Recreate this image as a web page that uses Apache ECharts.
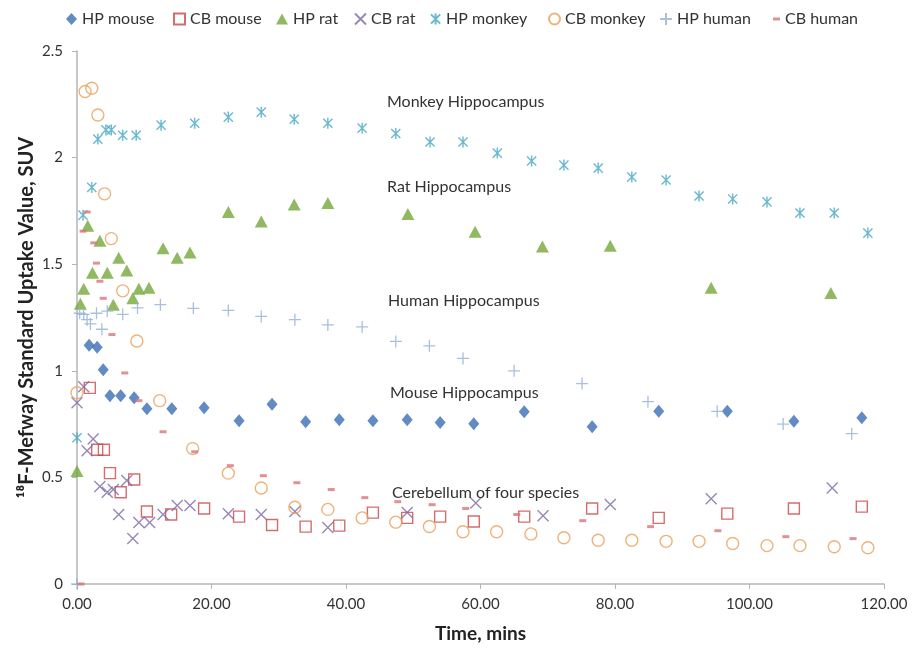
<!DOCTYPE html>
<html>
<head>
<meta charset="utf-8">
<script src="https://cdn.jsdelivr.net/npm/echarts@6/dist/echarts.min.js"></script>
<style>
  html, body { margin: 0; padding: 0; background: #fff; }
  #chart { width: 913px; height: 648px; }
</style>
</head>
<body>
<div id="chart"></div>
<script>
// ---------- data (time in minutes, SUV) ----------
const hpMouseT = [1.8, 3.0, 3.9, 4.9, 6.5, 8.5, 10.4, 14.1, 18.9, 24.1, 29.0, 34.0, 39.0, 44.0, 49.1, 54.0, 59.0, 66.5, 76.6, 86.5, 96.7, 106.6, 116.7];
const hpMouseV = [1.12, 1.11, 1.005, 0.883, 0.883, 0.874, 0.822, 0.822, 0.827, 0.766, 0.843, 0.761, 0.77, 0.766, 0.77, 0.757, 0.752, 0.808, 0.738, 0.81, 0.81, 0.763, 0.78];

const cbMouseT = [1.9, 3.0, 4.0, 4.9, 6.5, 8.5, 10.4, 14.0, 18.9, 24.1, 29.0, 34.0, 39.0, 44.0, 49.1, 54.0, 59.0, 66.5, 76.6, 86.5, 96.7, 106.6, 116.7];
const cbMouseV = [0.92, 0.63, 0.63, 0.52, 0.43, 0.49, 0.34, 0.326, 0.354, 0.316, 0.277, 0.269, 0.274, 0.335, 0.31, 0.316, 0.293, 0.316, 0.354, 0.31, 0.33, 0.354, 0.363];

const hpRatT = [0, 0.5, 1.0, 1.6, 2.3, 3.4, 4.5, 5.4, 6.2, 7.4, 8.3, 9.2, 10.7, 12.8, 14.9, 16.8, 22.5, 27.4, 32.3, 37.3, 49.2, 59.2, 69.2, 79.3, 94.3, 112.1];
const hpRatV = [0.53, 1.315, 1.385, 1.68, 1.46, 1.61, 1.46, 1.31, 1.53, 1.47, 1.34, 1.385, 1.39, 1.575, 1.53, 1.555, 1.745, 1.70, 1.78, 1.787, 1.735, 1.652, 1.583, 1.587, 1.39, 1.365];

const cbRatT = [0, 1.0, 1.5, 2.4, 3.4, 4.5, 5.4, 6.2, 7.4, 8.3, 9.2, 10.8, 12.8, 14.9, 16.8, 22.5, 27.4, 32.4, 37.3, 49.1, 59.3, 69.3, 79.3, 94.3, 112.3];
const cbRatV = [0.85, 0.925, 0.625, 0.68, 0.457, 0.43, 0.443, 0.326, 0.485, 0.213, 0.288, 0.288, 0.326, 0.368, 0.368, 0.33, 0.326, 0.34, 0.265, 0.335, 0.38, 0.32, 0.373, 0.40, 0.45];

const hpMonkeyT = [0, 0.9, 2.2, 3.1, 4.3, 5.1, 6.8, 8.8, 12.5, 17.5, 22.5, 27.4, 32.3, 37.3, 42.4, 47.4, 52.5, 57.4, 62.5, 67.6, 72.4, 77.5, 82.5, 87.6, 92.5, 97.5, 102.6, 107.5, 112.6, 117.6];
const hpMonkeyV = [0.686, 1.73, 1.86, 2.087, 2.13, 2.13, 2.105, 2.105, 2.152, 2.161, 2.19, 2.213, 2.18, 2.161, 2.138, 2.113, 2.073, 2.073, 2.021, 1.984, 1.965, 1.951, 1.909, 1.895, 1.82, 1.806, 1.792, 1.74, 1.74, 1.646];

const cbMonkeyT = [0, 1.2, 2.2, 3.1, 4.1, 5.1, 6.8, 8.9, 12.3, 17.2, 22.5, 27.4, 32.4, 37.3, 42.4, 47.4, 52.4, 57.4, 62.4, 67.5, 72.4, 77.5, 82.5, 87.6, 92.5, 97.5, 102.6, 107.5, 112.6, 117.6];
const cbMonkeyV = [0.897, 2.31, 2.325, 2.20, 1.83, 1.62, 1.375, 1.14, 0.86, 0.635, 0.52, 0.45, 0.36, 0.35, 0.31, 0.29, 0.27, 0.245, 0.245, 0.235, 0.217, 0.205, 0.205, 0.2, 0.2, 0.19, 0.18, 0.18, 0.175, 0.17];

const hpHumanT = [0, 0.4, 1.0, 1.5, 2.0, 2.9, 3.7, 4.5, 6.8, 9.0, 12.4, 17.3, 22.5, 27.4, 32.4, 37.3, 42.4, 47.4, 52.4, 57.4, 65.0, 75.1, 84.9, 95.2, 105.0, 115.2];
const hpHumanV = [0, 1.27, 1.265, 1.24, 1.22, 1.27, 1.195, 1.28, 1.265, 1.295, 1.31, 1.293, 1.283, 1.255, 1.24, 1.215, 1.206, 1.138, 1.117, 1.058, 1.0, 0.94, 0.855, 0.81, 0.75, 0.705];

const cbHumanT = [0.6, 0.9, 1.5, 2.5, 2.9, 3.4, 3.9, 5.2, 7.1, 9.2, 12.8, 17.5, 22.8, 27.7, 32.7, 37.8, 42.8, 47.7, 52.8, 57.8, 65.4, 75.2, 85.3, 95.3, 105.4, 115.4];
const cbHumanV = [0, 1.655, 1.745, 1.60, 1.505, 1.42, 1.34, 1.17, 0.99, 0.86, 0.714, 0.62, 0.555, 0.508, 0.475, 0.443, 0.405, 0.386, 0.372, 0.354, 0.326, 0.297, 0.269, 0.25, 0.222, 0.213];

const seriesNames = ['HP mouse', 'CB mouse', 'HP rat', 'CB rat', 'HP monkey', 'CB monkey', 'HP human', 'CB human'];
const xTicks = [0, 20, 40, 60, 80, 100, 120];
const yTicks = [0, 0.5, 1, 1.5, 2, 2.5];

const annotations = ['Monkey Hippocampus', 'Rat Hippocampus', 'Human Hippocampus', 'Mouse Hippocampus', 'Cerebellum of four species'];

// ---------- build ----------
const zip = (t, v) => t.map((x, i) => [x, v[i]]);
const FONT = 'Lato, "Open Sans", sans-serif';

const X_PATH = 'path://M0,0L10,10M10,0L0,10';
const STAR_PATH = 'path://M0,0L10,10M10,0L0,10M5,-1L5,11';
const PLUS_PATH = 'path://M5,0L5,10M0,5L10,5';

const styles = [
  { symbol: 'diamond', size: [11, 13], itemStyle: { color: '#3b6db4' } },
  { symbol: 'rect', size: 11, itemStyle: { color: 'rgba(0,0,0,0)', borderColor: '#c9474a', borderWidth: 1.4 } },
  { symbol: 'triangle', size: [13, 12], itemStyle: { color: '#76a83a' } },
  { symbol: X_PATH, size: 11, itemStyle: { color: 'rgba(0,0,0,0)', borderColor: '#7c6aa4', borderWidth: 1.4 } },
  { symbol: STAR_PATH, size: 11, itemStyle: { color: 'rgba(0,0,0,0)', borderColor: '#43a8c4', borderWidth: 1.4 } },
  { symbol: 'circle', size: 12, itemStyle: { color: 'rgba(0,0,0,0)', borderColor: '#e8a05a', borderWidth: 1.4 } },
  { symbol: PLUS_PATH, size: 12, itemStyle: { color: 'rgba(0,0,0,0)', borderColor: '#92b0d6', borderWidth: 1.3 } },
  { symbol: 'rect', size: [7, 3], itemStyle: { color: '#d9767a' } }
];
const datasets = [
  zip(hpMouseT, hpMouseV), zip(cbMouseT, cbMouseV), zip(hpRatT, hpRatV), zip(cbRatT, cbRatV),
  zip(hpMonkeyT, hpMonkeyV), zip(cbMonkeyT, cbMonkeyV), zip(hpHumanT, hpHumanV), zip(cbHumanT, cbHumanV)
];

const series = seriesNames.map((name, i) => ({
  name: name,
  type: 'scatter',
  data: datasets[i],
  symbol: styles[i].symbol,
  symbolSize: styles[i].size,
  symbolKeepAspect: true,
  itemStyle: styles[i].itemStyle,
  emphasis: { disabled: true },
  z: 2 + i
}));

// legend placement (one small legend per item, like the reference layout)
const legendLeft = [61, 168, 271, 349, 425, 543, 654, 768];
const legendIcon = [[11, 12], [11, 11], [12, 11], [11, 11], [11, 11], [11, 11], [12, 12], [7, 3]];
const legends = seriesNames.map((name, i) => ({
  data: [name],
  left: legendLeft[i],
  top: 6,
  itemWidth: legendIcon[i][0],
  itemHeight: legendIcon[i][1],
  itemGap: 0,
  textStyle: { fontFamily: FONT, fontSize: 16, color: '#333' },
  selectedMode: false
}));

const annoPos = [[387, 103], [387, 188], [388, 302], [390, 394], [392, 494]];

const chart = echarts.init(document.getElementById('chart'), null, { renderer: 'canvas' });
chart.setOption({
  animation: false,
  backgroundColor: '#fff',
  grid: { left: 77, right: 29, top: 51, bottom: 64, containLabel: false },
  legend: legends,
  xAxis: {
    type: 'value', min: 0, max: 120, interval: 20,
    name: 'Time, mins', nameLocation: 'middle', nameGap: 40,
    nameTextStyle: { fontFamily: FONT, fontSize: 19, fontWeight: 'bold', color: '#222' },
    axisLine: { show: true, lineStyle: { color: '#b5b5b5', width: 1.5 } },
    axisTick: { show: true, inside: false, length: 5, lineStyle: { color: '#b5b5b5' } },
    axisLabel: { margin: 13, fontFamily: FONT, fontSize: 15, color: '#333', formatter: v => v.toFixed(2) },
    splitLine: { show: false }
  },
  yAxis: {
    type: 'value', min: 0, max: 2.5, interval: 0.5,
    name: '\u00B9\u2078F-Mefway Standard Uptake Value, SUV', nameLocation: 'middle', nameGap: 40, nameRotate: 90,
    nameMoveOverlap: false,
    nameTextStyle: { fontFamily: FONT, fontSize: 20, fontWeight: 'bold', color: '#222' },
    axisLine: { show: true, lineStyle: { color: '#b5b5b5', width: 1.5 } },
    axisTick: { show: true, length: 5, lineStyle: { color: '#b5b5b5' } },
    axisLabel: { margin: 14, fontFamily: FONT, fontSize: 15, color: '#333' },
    splitLine: { show: false }
  },
  graphic: annotations.map((t, i) => ({
    type: 'text',
    left: annoPos[i][0],
    top: annoPos[i][1] - 9,
    z: 100,
    style: { text: t, fontFamily: FONT, fontSize: 16, fill: '#333' }
  })),
  series: series
});
</script>
</body>
</html>
